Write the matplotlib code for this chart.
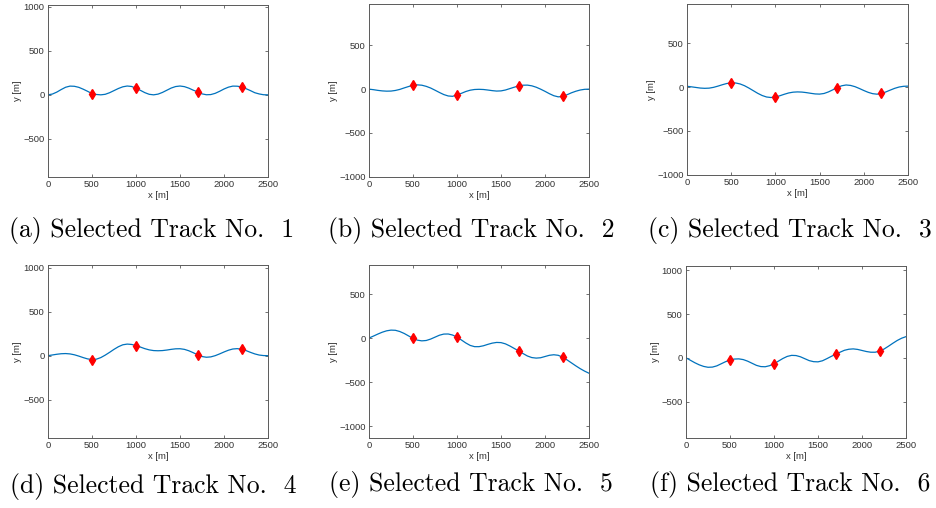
import matplotlib

matplotlib.use("Agg")
import matplotlib.pyplot as plt
from matplotlib.ticker import MultipleLocator

# Stützstellen entlang x (alle 50 m), für alle sechs Strecken gleich.
x_m = list(range(0, 2501, 50))

track_1 = [0, 9, 31, 60, 86, 99, 97, 85, 64, 40, 14, 4, 0, 6, 24, 48, 72, 91, 100,
           95, 74, 51, 25, 6, 0, 8, 27, 52, 77, 94, 100, 93, 76, 53, 34, 11, 1,
           3, 17, 40, 66, 87, 99, 98, 90, 70, 48, 24, 10, 1, 0]
track_2 = [0, -6, -14, -20, -23, -22, -15, -3, 14, 30, 44, 49, 45, 32, 13, -12,
           -38, -62, -78, -82, -66, -48, -27, -12, -4, -2, -4, -10, -17, -22, -20,
           -10, 6, 22, 36, 45, 46, 38, 22, 0, -25, -52, -75, -88, -84, -64, -42,
           -24, -10, -2, 0]
track_3 = [8, 2, -5, -12, -15, -13, -4, 10, 26, 40, 47, 46, 35, 15, -12, -42,
           -72, -97, -114, -120, -114, -100, -83, -68, -59, -56, -58, -64, -72,
           -79, -81, -74, -56, -32, -6, 14, 23, 18, 4, -17, -40, -61, -76, -82,
           -74, -56, -35, -15, 0, 8, 10]
track_4 = [0, 8, 16, 22, 24, 20, 10, -5, -22, -37, -44, -40, -22, 6, 38, 72, 102,
           124, 132, 128, 115, 98, 80, 66, 58, 56, 58, 64, 72, 78, 79, 72, 56, 34,
           10, -10, -18, -14, 0, 20, 42, 62, 76, 80, 74, 58, 38, 20, 7, 1, 0]
track_5 = [0, 22, 45, 66, 82, 90, 88, 74, 52, 24, -4, -24, -32, -28, -12, 10, 32,
           45, 46, 34, 10, -22, -56, -84, -98, -98, -88, -72, -58, -50, -52, -66,
           -90, -118, -146, -176, -204, -222, -228, -224, -210, -196, -190, -196,
           -218, -248, -282, -316, -348, -376, -400]
track_6 = [0, -28, -56, -80, -98, -108, -106, -92, -68, -44, -26, -14, -12, -20,
           -38, -62, -86, -100, -102, -90, -68, -38, -8, 16, 28, 26, 12, -10, -32,
           -44, -46, -34, -10, 16, 40, 64, 86, 98, 102, 96, 84, 72, 64, 64, 76,
           100, 132, 166, 198, 224, 242]
tracks = [track_1, track_2, track_3, track_4, track_5, track_6]

# Ausgewählte Punkte (rote Rauten)
wp_x = [500, 1000, 1700, 2200]
wp_y = [
    [14, 72, 34, 90],
    [44, -66, 36, -84],
    [47, -114, -6, -74],
    [-44, 115, 10, 74],
    [-4, 10, -146, -218],
    [-26, -68, 40, 76],
]

captions = [f"({c}) Selected Track No.  {i + 1}" for i, c in enumerate("abcdef")]

# y-Grenzen so gewählt, dass die Achsen wie bei "axis equal" aussehen
y_limits = [(-932, 1019), (-1004, 973), (-1004, 947),
            (-939, 1034), (-1136, 830), (-916, 1049)]

W, H = 936, 508
# Achsen-Rahmen in Pixeln: links, rechts, oben, unten
_BOXES = [(48, 268, 5, 177), (369, 589, 4, 177), (687, 908, 4, 175),
          (48, 268, 265, 438), (369, 589, 265, 438), (686, 906, 266, 438)]
_CAP_POS = [(152, 230), (471, 230), (790, 230), (153, 486), (471, 485), (790, 485)]

_LINE = "#0072BD"
_TXT = "#333333"
_FRAME = "#5a5a5a"

plt.rcParams["font.family"] = ["Liberation Sans", "DejaVu Sans"]

fig = plt.figure(figsize=(W / 100, H / 100), dpi=100)
fig.patch.set_facecolor("white")

for i, (l, r, t, b) in enumerate(_BOXES):
    ax = fig.add_axes([l / W, 1 - b / H, (r - l) / W, (b - t) / H])
    ax.plot(x_m, tracks[i], color=_LINE, linewidth=0.9, zorder=2)
    ax.plot(wp_x, wp_y[i], linestyle="none", marker="d", markersize=5.5,
            color="red", markeredgecolor="red", zorder=3)

    ax.set_xlim(0, 2500)
    ax.set_ylim(*y_limits[i])
    ax.xaxis.set_major_locator(MultipleLocator(500))
    ax.yaxis.set_major_locator(MultipleLocator(500))
    ax.tick_params(direction="in", length=2.5, width=0.6, top=True, right=True,
                   labelsize=6.8, colors=_FRAME, labelcolor=_TXT, pad=2.5)
    for sp in ax.spines.values():
        sp.set_color(_FRAME)
        sp.set_linewidth(0.7)
    ax.set_xlabel("x [m]", fontsize=6.8, color=_TXT, labelpad=1)
    ax.set_ylabel("y [m]", fontsize=6.8, color=_TXT, labelpad=1)

    cx, cy = _CAP_POS[i]
    fig.text(cx / W, 1 - cy / H, captions[i], family="cmr10", fontsize=18.5,
             color="black", ha="center", va="center")

fig.savefig("out.png", dpi=100, facecolor=fig.get_facecolor())
